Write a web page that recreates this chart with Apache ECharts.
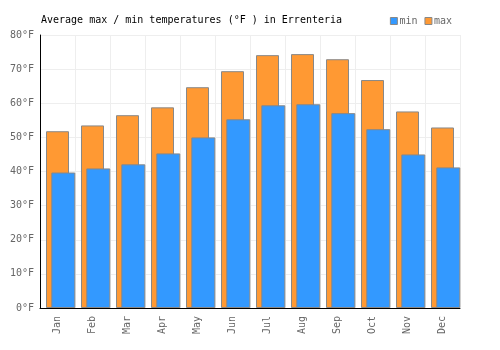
<!DOCTYPE html>
<html><head><meta charset="utf-8">
<script src="https://cdn.jsdelivr.net/npm/echarts@6/dist/echarts.min.js"></script>
<style>html,body{margin:0;padding:0;background:#fff}#c{width:500px;height:350px}</style>
</head><body><div id="c"></div>
<script>
const months = ["Jan","Feb","Mar","Apr","May","Jun","Jul","Aug","Sep","Oct","Nov","Dec"];
const minTemps = [39.7,40.9,42.1,45.3,50.0,55.3,59.4,59.7,57.1,52.4,45.0,41.2];
const maxTemps = [51.8,53.5,56.5,58.8,64.7,69.4,74.1,74.4,72.9,66.8,57.6,52.9];
const yTicks = [0,10,20,30,40,50,60,70,80];

const FONT = "DejaVu Sans Mono";
const chart = echarts.init(document.getElementById('c'), null, {renderer:'canvas'});
chart.setOption({
  animation:false,
  backgroundColor:'#fff',
  textStyle:{fontFamily:FONT},
  title:{text:'Average max / min temperatures (°F ) in Errenteria', left:36, top:10,
    textStyle:{fontFamily:FONT,fontSize:10,fontWeight:'normal',color:'#000'}},
  legend:{right:43, top:11, itemWidth:7, itemHeight:7, itemGap:7,
    icon:'rect', data:['min','max'],
    textStyle:{fontFamily:FONT,fontSize:10,color:'#666',padding:[0,0,0,-3]},
    itemStyle:{borderColor:'#888',borderWidth:1}},
  grid:[
    {left:40, top:35, width:420, height:273},
    {left:45.8, top:35, width:420, height:273}
  ],
  xAxis:[
    {type:'category', gridIndex:0, data:months, boundaryGap:true,
     axisLine:{lineStyle:{color:'#000',width:1}}, axisTick:{show:false},
     axisLabel:{rotate:90, margin:8, color:'#666', fontFamily:FONT, fontSize:10},
     splitLine:{show:true, lineStyle:{color:'#eee'}}},
    {type:'category', gridIndex:1, data:months, show:false}
  ],
  yAxis:[
    {type:'value', gridIndex:0, min:0, max:80, interval:10,
     axisLine:{show:true, lineStyle:{color:'#000'}}, axisTick:{show:false},
     axisLabel:{color:'#666', fontFamily:FONT, fontSize:10, margin:6,
       formatter:v=> yTicks.includes(v) ? v+'°F' : ''},
     splitLine:{lineStyle:{color:'#eee'}}},
    {type:'value', gridIndex:1, min:0, max:80, interval:10, show:false, splitLine:{show:false}}
  ],
  series:[
    {name:'max', type:'bar', xAxisIndex:0, yAxisIndex:0, data:maxTemps, barWidth:23,
     itemStyle:{color:'#ff9933', borderColor:'#888', borderWidth:1}},
    {name:'min', type:'bar', xAxisIndex:1, yAxisIndex:1, data:minTemps, barWidth:24,
     itemStyle:{color:'#3399ff', borderColor:'#888', borderWidth:1}}
  ]
});
</script></body></html>
